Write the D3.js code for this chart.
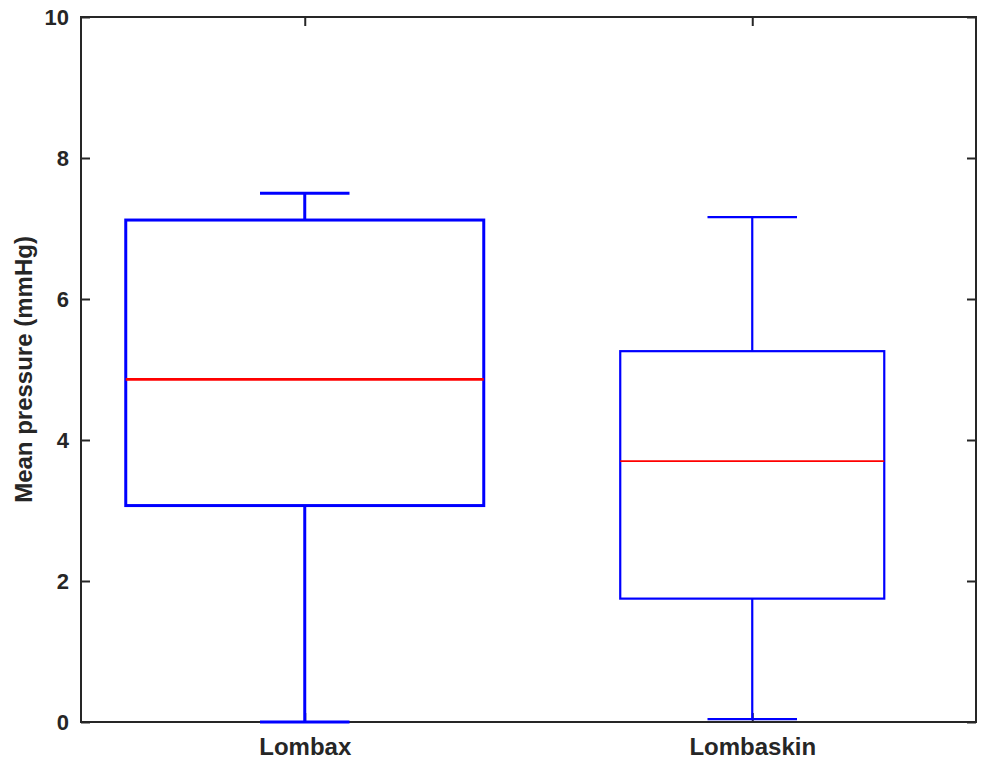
<!DOCTYPE html>
<html><head><meta charset="utf-8">
<script src="https://cdn.jsdelivr.net/npm/d3@7"></script>
<style>body{margin:0;background:#fff}text{font-family:"Liberation Sans",Arial,sans-serif;font-weight:bold;fill:#262626}</style>
</head><body><svg id="c" width="982" height="761"></svg>
<script>
const categories = ["Lombax", "Lombaskin"];
const whiskerLow = [0.0, 0.04];
const q1 = [3.07, 1.75];
const median = [4.86, 3.70];
const q3 = [7.12, 5.26];
const whiskerHigh = [7.50, 7.16];
const boxWidth = [0.8, 0.59];
const yTicks = [0, 2, 4, 6, 8, 10];

const svg = d3.select("#c");
const L = 81, R = 976, T = 17, B = 722;
const x = d3.scaleLinear().domain([0.5, 2.5]).range([L, R]);
const y = d3.scaleLinear().domain([0, 10]).range([B, T]);
const axisColor = "#262626";
const tickLen = 9;

// frame
svg.append("rect").attr("x", L).attr("y", T).attr("width", R - L).attr("height", B - T)
  .attr("fill", "none").attr("stroke", axisColor).attr("stroke-width", 2);

// y axis ticks (left & right, inward)
const yAx = svg.append("g").attr("transform", `translate(${L},0)`)
  .call(d3.axisLeft(y).tickValues(yTicks).tickSize(-tickLen).tickPadding(12).tickFormat(d3.format("d")));
yAx.select(".domain").remove();
yAx.selectAll("line").attr("stroke", axisColor).attr("stroke-width", 2);
yAx.selectAll("text").style("font-size", "22px").attr("fill", axisColor);
const yAxR = svg.append("g").attr("transform", `translate(${R},0)`)
  .call(d3.axisRight(y).tickValues(yTicks).tickSize(-tickLen).tickFormat(""));
yAxR.select(".domain").remove();
yAxR.selectAll("line").attr("stroke", axisColor).attr("stroke-width", 2);

// x axis
const xAx = svg.append("g").attr("transform", `translate(0,${B})`)
  .call(d3.axisBottom(x).tickValues([1, 2]).tickSize(-tickLen).tickPadding(16).tickFormat((d, i) => categories[i]));
xAx.select(".domain").remove();
xAx.selectAll("line").attr("stroke", axisColor).attr("stroke-width", 2);
xAx.selectAll("text").style("font-size", "24px").attr("fill", axisColor);
const xAxT = svg.append("g").attr("transform", `translate(0,${T})`)
  .call(d3.axisTop(x).tickValues([1, 2]).tickSize(-tickLen).tickFormat(""));
xAxT.select(".domain").remove();
xAxT.selectAll("line").attr("stroke", axisColor).attr("stroke-width", 2);

// y label
svg.append("text").attr("transform", `translate(32,${(T + B) / 2}) rotate(-90)`)
  .attr("text-anchor", "middle").style("font-size", "24px").text("Mean pressure (mmHg)");

// boxes
const data = categories.map((c, i) => ({ i, pos: i + 1, lo: whiskerLow[i], q1: q1[i], med: median[i], q3: q3[i], hi: whiskerHigh[i], w: boxWidth[i] }));
const lw = [3, 2.2], mw = [2.6, 1.8];
const capHalf = 0.1;
const g = svg.append("g");
data.forEach(d => {
  const blue = "#0000ff";
  const s = lw[d.i];
  // whiskers
  g.append("line").attr("x1", x(d.pos)).attr("x2", x(d.pos)).attr("y1", y(d.q3)).attr("y2", y(d.hi)).attr("stroke", blue).attr("stroke-width", s);
  g.append("line").attr("x1", x(d.pos)).attr("x2", x(d.pos)).attr("y1", y(d.q1)).attr("y2", y(d.lo)).attr("stroke", blue).attr("stroke-width", s);
  // caps
  [d.hi, d.lo].forEach(v => g.append("line").attr("x1", x(d.pos - capHalf)).attr("x2", x(d.pos + capHalf)).attr("y1", y(v)).attr("y2", y(v)).attr("stroke", blue).attr("stroke-width", s));
  // box
  g.append("rect").attr("x", x(d.pos - d.w / 2)).attr("width", x(d.pos + d.w / 2) - x(d.pos - d.w / 2))
    .attr("y", y(d.q3)).attr("height", y(d.q1) - y(d.q3)).attr("fill", "none").attr("stroke", blue).attr("stroke-width", s);
  // median
  g.append("line").attr("x1", x(d.pos - d.w / 2)).attr("x2", x(d.pos + d.w / 2)).attr("y1", y(d.med)).attr("y2", y(d.med)).attr("stroke", "#ff0000").attr("stroke-width", mw[d.i]);
});
</script></body></html>
